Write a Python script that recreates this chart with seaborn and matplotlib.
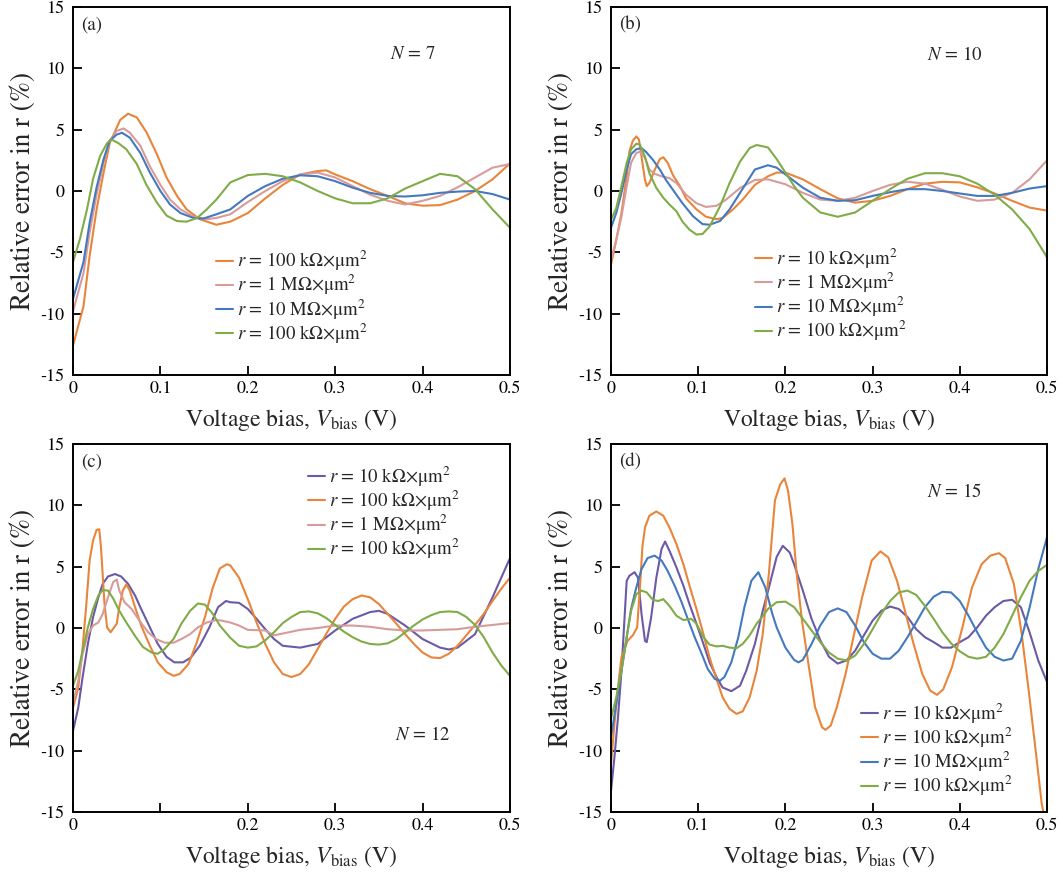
import numpy as np
import pandas as pd
import matplotlib
matplotlib.use("Agg")
import matplotlib.pyplot as plt
import seaborn as sns

# ---------------------------------------------------------------------------
# Relative error in the extracted specific resistance r versus voltage bias,
# for four model orders N.  Each curve is a list of (V_bias [V], error [%]).
# ---------------------------------------------------------------------------

# N = 7
A_100K = [(0, -12.6), (0.012, -9.4), (0.019, -5.3), (0.027, -1.5), (0.035, 1.5), (0.042, 3.9),
          (0.054, 5.8), (0.063, 6.3), (0.073, 6.0), (0.084, 4.8), (0.096, 3.0), (0.107, 1.1),
          (0.119, -0.4), (0.130, -1.5), (0.145, -2.3), (0.164, -2.75), (0.18, -2.5), (0.20, -1.8),
          (0.22, -0.6), (0.24, 0.5), (0.26, 1.35), (0.28, 1.63), (0.29, 1.68), (0.30, 1.35),
          (0.32, 0.8), (0.34, 0.15), (0.36, -0.4), (0.38, -1.0), (0.40, -1.2), (0.42, -1.15),
          (0.44, -0.7), (0.46, 0.0), (0.48, 0.95), (0.50, 2.25)]
A_1M = [(0, -9.8), (0.012, -6.7), (0.019, -3.4), (0.027, -0.3), (0.035, 2.3), (0.042, 4.1),
        (0.050, 4.9), (0.058, 5.1), (0.065, 4.75), (0.077, 3.7), (0.088, 2.0), (0.100, 0.5),
        (0.111, -0.7), (0.123, -1.5), (0.138, -2.1), (0.153, -2.3), (0.164, -2.2), (0.18, -1.9),
        (0.20, -0.9), (0.22, 0.0), (0.24, 0.8), (0.26, 1.35), (0.28, 1.5), (0.30, 1.1),
        (0.32, 0.4), (0.34, -0.3), (0.36, -0.8), (0.38, -1.1), (0.40, -0.8), (0.42, -0.4),
        (0.44, 0.3), (0.46, 1.1), (0.48, 1.9), (0.50, 2.2)]
A_10M = [(0, -8.8), (0.012, -5.8), (0.019, -2.6), (0.027, 0.3), (0.035, 2.6), (0.042, 4.1),
         (0.050, 4.6), (0.056, 4.75), (0.065, 4.35), (0.077, 3.1), (0.088, 1.5), (0.100, 0.0),
         (0.111, -1.1), (0.123, -1.8), (0.138, -2.2), (0.149, -2.25), (0.164, -1.9), (0.18, -1.5),
         (0.20, -0.4), (0.22, 0.4), (0.24, 1.0), (0.26, 1.28), (0.28, 1.2), (0.30, 0.8),
         (0.32, 0.27), (0.34, -0.15), (0.36, -0.4), (0.38, -0.45), (0.40, -0.35), (0.42, -0.15),
         (0.44, -0.05), (0.46, 0.0), (0.48, -0.25), (0.50, -0.7)]
A_100K_B = [(0, -5.8), (0.008, -3.9), (0.016, -1.5), (0.023, 1.0), (0.031, 2.85), (0.039, 3.9),
            (0.044, 4.2), (0.052, 3.9), (0.061, 3.4), (0.073, 2.2), (0.084, 0.5), (0.096, -0.95),
            (0.107, -2.0), (0.119, -2.45), (0.130, -2.5), (0.142, -2.2), (0.153, -1.5),
            (0.164, -0.7), (0.18, 0.7), (0.20, 1.3), (0.22, 1.4), (0.24, 1.2), (0.26, 0.7),
            (0.28, 0.0), (0.30, -0.6), (0.32, -1.0), (0.34, -1.0), (0.36, -0.6), (0.38, 0.2),
            (0.40, 0.8), (0.42, 1.4), (0.44, 1.2), (0.46, 0.15), (0.48, -1.5), (0.50, -3.0)]

# N = 10
B_10K = [(0, -6.0), (0.006, -4.0), (0.012, -1.8), (0.018, 1.2), (0.021, 3.2), (0.025, 4.1),
         (0.029, 4.45), (0.032, 4.2), (0.035, 2.8), (0.039, 0.9), (0.041, 0.4), (0.044, 0.65),
         (0.050, 1.7), (0.056, 2.6), (0.060, 2.75), (0.065, 2.3), (0.071, 1.3), (0.079, 0.4),
         (0.086, -0.6), (0.098, -1.5), (0.109, -2.1), (0.121, -2.3), (0.128, -2.2), (0.140, -1.5),
         (0.151, -0.7), (0.165, 0.5), (0.18, 1.2), (0.19, 1.5), (0.20, 1.5), (0.22, 0.95),
         (0.24, 0.15), (0.26, -0.6), (0.28, -0.95), (0.30, -0.8), (0.32, -0.4), (0.34, 0.15),
         (0.36, 0.6), (0.38, 0.75), (0.40, 0.7), (0.42, 0.3), (0.44, -0.2), (0.46, -0.8),
         (0.48, -1.35), (0.50, -1.6)]
B_1M = [(0, -5.6), (0.006, -4.0), (0.012, -2.1), (0.018, 0.4), (0.023, 2.3), (0.029, 3.1),
        (0.033, 3.2), (0.039, 2.7), (0.044, 1.75), (0.050, 1.4), (0.058, 1.2), (0.067, 1.05),
        (0.075, 0.65), (0.086, -0.3), (0.098, -1.0), (0.109, -1.3), (0.121, -1.2), (0.132, -0.7),
        (0.148, 0.25), (0.165, 0.9), (0.18, 0.95), (0.20, 0.55), (0.22, -0.15), (0.24, -0.7),
        (0.26, -0.8), (0.28, -0.55), (0.30, 0.0), (0.32, 0.5), (0.34, 0.75), (0.36, 0.6),
        (0.38, 0.1), (0.40, -0.45), (0.42, -0.8), (0.44, -0.7), (0.46, -0.15), (0.48, 0.95),
        (0.50, 2.5)]
B_10M = [(0, -3.0), (0.006, -1.8), (0.012, -0.15), (0.018, 1.75), (0.023, 3.0), (0.029, 3.4),
         (0.035, 3.5), (0.040, 3.2), (0.048, 2.55), (0.056, 1.75), (0.063, 0.9), (0.071, 0.1),
         (0.082, -1.0), (0.094, -2.05), (0.105, -2.7), (0.113, -2.75), (0.125, -2.45),
         (0.136, -1.5), (0.148, -0.15), (0.165, 1.75), (0.18, 2.1), (0.19, 1.9), (0.20, 1.35),
         (0.22, 0.27), (0.24, -0.55), (0.26, -0.8), (0.28, -0.75), (0.30, -0.4), (0.32, -0.1),
         (0.34, 0.15), (0.36, 0.15), (0.38, 0.0), (0.40, -0.2), (0.42, -0.4), (0.44, -0.4),
         (0.46, -0.15), (0.48, 0.2), (0.50, 0.4)]
B_100K = [(0, -2.35), (0.006, -1.4), (0.012, 0.4), (0.018, 2.3), (0.023, 3.4), (0.029, 3.85),
          (0.033, 3.8), (0.039, 2.8), (0.044, 1.45), (0.052, 0.25), (0.060, -0.55), (0.067, -1.1),
          (0.075, -1.65), (0.082, -2.5), (0.090, -3.15), (0.098, -3.55), (0.105, -3.5),
          (0.113, -2.9), (0.125, -1.25), (0.136, 0.65), (0.148, 2.4), (0.159, 3.5), (0.167, 3.75),
          (0.18, 3.55), (0.19, 2.6), (0.20, 1.5), (0.21, 0.4), (0.22, -0.55), (0.24, -1.75),
          (0.26, -2.1), (0.28, -1.75), (0.30, -0.8), (0.32, 0.15), (0.34, 1.0), (0.36, 1.45),
          (0.38, 1.45), (0.40, 1.2), (0.42, 0.6), (0.44, -0.3), (0.46, -1.5), (0.48, -3.1),
          (0.50, -5.4)]

# N = 12
C_10K = [(0, -8.4), (0.006, -6.5), (0.011, -4.0), (0.017, -1.3), (0.023, 0.9), (0.029, 2.5),
         (0.034, 3.6), (0.040, 4.2), (0.048, 4.4), (0.055, 4.2), (0.063, 3.6), (0.071, 2.65),
         (0.078, 1.55), (0.088, 0.05), (0.097, -1.3), (0.107, -2.35), (0.116, -2.8),
         (0.126, -2.8), (0.135, -2.4), (0.145, -1.45), (0.156, 0.05), (0.166, 1.7), (0.175, 2.2),
         (0.18, 2.1), (0.19, 2.05), (0.20, 1.55), (0.21, 0.75), (0.22, -0.1), (0.23, -0.9),
         (0.24, -1.45), (0.26, -1.6), (0.28, -1.3), (0.30, -0.2), (0.32, 0.75), (0.34, 1.3),
         (0.35, 1.4), (0.36, 1.15), (0.38, 0.2), (0.40, -0.9), (0.42, -1.6), (0.43, -1.75),
         (0.44, -1.6), (0.46, -0.5), (0.48, 2.5), (0.49, 4.1), (0.50, 5.7)]
C_100K = [(0, -6.5), (0.006, -4.9), (0.011, -1.6), (0.015, 1.7), (0.019, 5.5), (0.023, 7.15),
          (0.027, 8.0), (0.030, 8.05), (0.032, 6.6), (0.036, 2.0), (0.039, 0.05), (0.043, -0.35),
          (0.050, 0.35), (0.053, 1.7), (0.057, 3.05), (0.061, 3.55), (0.065, 3.05), (0.071, 1.7),
          (0.078, 0.2), (0.088, -1.45), (0.097, -2.8), (0.107, -3.6), (0.115, -3.9),
          (0.122, -3.75), (0.132, -2.95), (0.141, -1.3), (0.151, 0.9), (0.160, 3.3),
          (0.168, 4.85), (0.176, 5.2), (0.18, 5.1), (0.19, 4.1), (0.20, 2.35), (0.21, 0.45),
          (0.22, -1.3), (0.23, -2.8), (0.24, -3.75), (0.25, -4.0), (0.26, -3.75), (0.27, -2.95),
          (0.28, -1.7), (0.29, -0.45), (0.30, 0.75), (0.31, 1.75), (0.32, 2.35), (0.33, 2.65),
          (0.34, 2.5), (0.35, 1.95), (0.36, 1.15), (0.37, 0.35), (0.38, -0.5), (0.39, -1.3),
          (0.40, -2.0), (0.41, -2.4), (0.42, -2.45), (0.43, -2.1), (0.44, -1.45), (0.45, -0.6),
          (0.46, 0.25), (0.47, 1.15), (0.48, 2.2), (0.49, 3.2), (0.50, 4.1)]
C_1M = [(0, -6.1), (0.006, -4.3), (0.011, -2.1), (0.017, -0.5), (0.023, 0.2), (0.029, 0.45),
        (0.034, 1.15), (0.040, 2.5), (0.046, 3.75), (0.050, 3.95), (0.053, 3.05), (0.059, 2.1),
        (0.067, 1.55), (0.076, 0.6), (0.086, -0.35), (0.095, -0.9), (0.105, -1.2), (0.115, -1.2),
        (0.124, -0.9), (0.134, -0.5), (0.143, 0.05), (0.153, 0.45), (0.164, 0.65), (0.17, 0.6),
        (0.18, 0.45), (0.19, 0.2), (0.20, -0.15), (0.22, -0.2), (0.23, -0.6), (0.24, -0.45),
        (0.26, -0.15), (0.28, 0.0), (0.30, 0.2), (0.32, 0.2), (0.34, 0.1), (0.36, -0.1),
        (0.38, -0.2), (0.40, -0.2), (0.42, -0.15), (0.44, -0.1), (0.46, 0.1), (0.48, 0.25),
        (0.50, 0.4)]
C_100K_B = [(0, -4.7), (0.006, -3.5), (0.011, -1.85), (0.017, 0.05), (0.023, 1.55), (0.029, 2.65),
            (0.034, 3.1), (0.040, 3.05), (0.046, 2.4), (0.053, 1.4), (0.061, 0.45), (0.071, -0.65),
            (0.080, -1.55), (0.090, -2.0), (0.097, -2.1), (0.105, -1.7), (0.115, -0.9),
            (0.124, 0.35), (0.134, 1.4), (0.143, 2.0), (0.151, 1.9), (0.160, 1.15), (0.168, 0.2),
            (0.18, -0.8), (0.19, -1.45), (0.20, -1.6), (0.21, -1.5), (0.22, -1.0), (0.23, -0.35),
            (0.24, 0.4), (0.25, 0.9), (0.26, 1.3), (0.27, 1.35), (0.28, 1.2), (0.29, 0.8),
            (0.30, 0.25), (0.31, -0.3), (0.32, -0.75), (0.33, -1.1), (0.34, -1.3), (0.35, -1.35),
            (0.36, -1.25), (0.37, -0.9), (0.38, -0.35), (0.39, 0.2), (0.40, 0.7), (0.41, 1.05),
            (0.42, 1.3), (0.43, 1.35), (0.44, 1.3), (0.45, 0.9), (0.46, 0.25), (0.47, -0.75),
            (0.48, -2.0), (0.49, -3.05), (0.50, -3.9)]

# N = 15
D_10K = [(0, -13.3), (0.004, -10.5), (0.008, -7.3), (0.012, -3.5), (0.016, 1.4), (0.018, 3.85),
         (0.021, 4.25), (0.027, 4.55), (0.031, 4.1), (0.035, 1.15), (0.039, -1.05),
         (0.041, -1.15), (0.046, 0.85), (0.052, 4.1), (0.058, 6.45), (0.062, 7.05), (0.067, 6.3),
         (0.075, 4.95), (0.083, 3.45), (0.090, 1.95), (0.098, 0.35), (0.106, -1.3), (0.113, -2.8),
         (0.121, -4.0), (0.128, -4.85), (0.138, -5.15), (0.148, -4.7), (0.155, -3.5),
         (0.165, -1.3), (0.174, 1.4), (0.18, 3.0), (0.19, 5.8), (0.197, 6.7), (0.205, 6.15),
         (0.21, 5.2), (0.22, 3.05), (0.23, 0.75), (0.24, -1.0), (0.25, -2.35), (0.26, -2.9),
         (0.27, -2.65), (0.28, -1.85), (0.29, -0.6), (0.30, 0.6), (0.31, 1.4), (0.32, 1.75),
         (0.33, 1.55), (0.34, 0.9), (0.35, -0.1), (0.36, -0.75), (0.37, -1.15), (0.38, -1.6),
         (0.39, -1.6), (0.40, -1.15), (0.41, -0.75), (0.42, 0.05), (0.43, 1.0), (0.44, 1.7),
         (0.45, 2.2), (0.46, 2.3), (0.47, 1.7), (0.48, -0.35), (0.49, -2.65), (0.50, -4.4)]
D_100K = [(0, -11.1), (0.004, -7.8), (0.008, -4.85), (0.012, -2.4), (0.016, -1.6), (0.019, -1.05),
          (0.025, -0.6), (0.030, 0.05), (0.033, 3.05), (0.036, 6.6), (0.039, 8.2), (0.044, 9.15),
          (0.052, 9.5), (0.060, 9.15), (0.067, 8.2), (0.075, 6.85), (0.083, 5.2), (0.090, 3.45),
          (0.098, 1.55), (0.106, -0.5), (0.113, -2.4), (0.121, -4.15), (0.128, -5.65),
          (0.136, -6.6), (0.144, -7.0), (0.151, -6.8), (0.159, -5.65), (0.167, -3.5),
          (0.174, -0.5), (0.181, 4.4), (0.188, 10.4), (0.194, 11.7), (0.199, 12.2), (0.203, 11.2),
          (0.208, 8.5), (0.213, 4.4), (0.219, 0.6), (0.227, -3.2), (0.234, -6.45), (0.242, -8.1),
          (0.246, -8.3), (0.252, -7.95), (0.259, -6.45), (0.269, -3.75), (0.278, -0.75),
          (0.288, 2.5), (0.299, 5.5), (0.309, 6.25), (0.318, 5.75), (0.328, 3.85), (0.338, 1.15),
          (0.347, -1.3), (0.357, -3.75), (0.366, -5.1), (0.374, -5.45), (0.381, -5.0),
          (0.391, -3.2), (0.403, 0.05), (0.414, 3.3), (0.425, 5.2), (0.435, 5.9), (0.445, 6.1),
          (0.452, 5.7), (0.462, 3.6), (0.471, -0.5), (0.479, -5.1), (0.487, -10.0),
          (0.494, -14.35), (0.50, -16.5)]
D_10M = [(0, -8.9), (0.006, -6.2), (0.012, -3.5), (0.018, -0.75), (0.023, 1.55), (0.029, 3.3),
         (0.035, 4.8), (0.042, 5.7), (0.050, 5.9), (0.058, 5.5), (0.065, 4.65), (0.073, 3.45),
         (0.081, 2.1), (0.088, 0.75), (0.096, -0.75), (0.104, -2.1), (0.111, -3.35),
         (0.119, -4.15), (0.125, -4.3), (0.130, -4.0), (0.138, -2.8), (0.146, -0.75),
         (0.153, 1.7), (0.161, 3.85), (0.169, 4.55), (0.177, 3.3), (0.185, 1.15), (0.19, 0.05),
         (0.20, -1.6), (0.21, -2.6), (0.215, -2.8), (0.22, -2.6), (0.23, -1.3), (0.24, 0.2),
         (0.25, 1.3), (0.26, 1.6), (0.27, 1.3), (0.28, 0.2), (0.29, -1.15), (0.30, -2.1),
         (0.31, -2.5), (0.32, -2.5), (0.33, -1.85), (0.34, -0.75), (0.35, 0.45), (0.36, 1.7),
         (0.37, 2.55), (0.38, 2.95), (0.39, 2.9), (0.40, 2.2), (0.41, 1.0), (0.42, -0.35),
         (0.43, -1.6), (0.44, -2.35), (0.45, -2.65), (0.46, -2.5), (0.47, -1.05), (0.48, 1.65),
         (0.49, 4.8), (0.50, 7.4)]
D_100K_B = [(0, -7.4), (0.006, -5.65), (0.012, -3.5), (0.018, -0.75), (0.023, 1.4), (0.029, 2.75),
            (0.035, 3.05), (0.041, 2.9), (0.048, 2.3), (0.054, 2.2), (0.060, 2.35), (0.067, 1.8),
            (0.075, 1.0), (0.083, 0.65), (0.092, 0.75), (0.098, 0.35), (0.106, -0.75),
            (0.113, -1.35), (0.121, -1.5), (0.128, -1.45), (0.136, -1.6), (0.144, -1.65),
            (0.151, -1.3), (0.159, -0.6), (0.167, 0.35), (0.176, 1.15), (0.18, 1.55), (0.19, 2.1),
            (0.20, 2.15), (0.21, 1.7), (0.22, 0.75), (0.23, -0.2), (0.24, -1.15), (0.25, -2.0),
            (0.26, -2.5), (0.27, -2.65), (0.28, -2.25), (0.29, -1.3), (0.30, -0.1), (0.31, 1.15),
            (0.32, 2.2), (0.33, 2.9), (0.34, 3.05), (0.35, 2.7), (0.36, 1.8), (0.37, 0.75),
            (0.38, -0.35), (0.39, -1.25), (0.40, -1.9), (0.41, -2.35), (0.42, -2.5), (0.43, -2.35),
            (0.44, -1.6), (0.45, -0.5), (0.46, 1.0), (0.47, 2.5), (0.48, 3.85), (0.49, 4.65),
            (0.50, 5.15)]

# Axis ticks and labels
X_TICKS = [0, 0.1, 0.2, 0.3, 0.4, 0.5]
X_TICKLABELS = ["0", "0.1", "0.2", "0.3", "0.4", "0.5"]
X_TICKLABELS_C = ["0", "", "0.2", "0.3", "0.4", "0.5"]
Y_TICKS = [-15, -10, -5, 0, 5, 10, 15]
Y_TICKLABELS = ["-15", "-10", "-5", "0", "5", "10", "15"]

ORANGE = "#E8853A"
PINK = "#D89B9B"
BLUE = "#4479BE"
GREEN = "#80AC48"
PURPLE = "#6B5AA6"

L_10K = r"$r$ = 10 kΩ×μm$^2$"
L_100K = r"$r$ = 100 kΩ×μm$^2$"
L_1M = r"$r$ = 1 MΩ×μm$^2$"
L_10M = r"$r$ = 10 MΩ×μm$^2$"

panels = [
    dict(rect=(73, 7, 510, 375), tag="(a)", order=r"$N$ = 7", order_xy=(0.725, 0.87),
         xt=X_TICKLABELS, leg=(0.327, 0.343),
         curves=[(A_100K, ORANGE, L_100K), (A_1M, PINK, L_1M),
                 (A_10M, BLUE, L_10M), (A_100K_B, GREEN, L_100K)]),
    dict(rect=(611, 7, 1047, 375), tag="(b)", order=r"$N$ = 10", order_xy=(0.725, 0.87),
         xt=X_TICKLABELS, leg=(0.330, 0.350),
         curves=[(B_10K, ORANGE, L_10K), (B_1M, PINK, L_1M),
                 (B_10M, BLUE, L_10M), (B_100K, GREEN, L_100K)]),
    dict(rect=(73, 444, 510, 812), tag="(c)", order=r"$N$ = 12", order_xy=(0.737, 0.21),
         xt=X_TICKLABELS_C, leg=(0.537, 0.945),
         curves=[(C_10K, PURPLE, L_10K), (C_100K, ORANGE, L_100K),
                 (C_1M, PINK, L_1M), (C_100K_B, GREEN, L_100K)]),
    dict(rect=(611, 444, 1047, 812), tag="(d)", order=r"$N$ = 15", order_xy=(0.725, 0.87),
         xt=X_TICKLABELS, leg=(0.573, 0.301),
         curves=[(D_10K, PURPLE, L_10K), (D_100K, ORANGE, L_100K),
                 (D_10M, BLUE, L_10M), (D_100K_B, GREEN, L_100K)]),
]

sns.set_style("ticks")
plt.rcParams["font.family"] = ["STIXGeneral", "DejaVu Serif"]
plt.rcParams["mathtext.fontset"] = "stix"
plt.rcParams["axes.unicode_minus"] = False

W, H = 1063, 873
fig = plt.figure(figsize=(W / 100, H / 100), dpi=100)

for p in panels:
    x0, y0, x1, y1 = p["rect"]
    ax = fig.add_axes([x0 / W, 1 - y1 / H, (x1 - x0) / W, (y1 - y0) / H])
    for pts, color, label in p["curves"]:
        df = pd.DataFrame(pts, columns=["V", "err"])
        sns.lineplot(data=df, x="V", y="err", ax=ax, color=color, label=label,
                     lw=1.5, sort=False, estimator=None)
    ax.set_xlim(0, 0.5)
    ax.set_ylim(-15, 15)
    ax.set_xticks(X_TICKS)
    ax.set_xticklabels(p["xt"])
    ax.set_yticks(Y_TICKS)
    ax.set_yticklabels(Y_TICKLABELS)
    ax.tick_params(direction="in", length=6.7, width=1.3, labelsize=13,
                   top=False, right=False, colors="black")
    ax.tick_params(axis="x", pad=4.5)
    ax.tick_params(axis="y", pad=6.0)
    for s in ax.spines.values():
        s.set_linewidth(1.4)
        s.set_color("black")
        s.set_visible(True)
    ax.set_xlabel(r"Voltage bias, $V_{\rm bias}$ (V)", fontsize=17, labelpad=7)
    ax.set_ylabel("Relative error in r (%)", fontsize=19.5, labelpad=3)
    ax.text(0.018, 0.951, p["tag"], transform=ax.transAxes, fontsize=13.5,
            ha="left", va="center")
    ax.text(p["order_xy"][0], p["order_xy"][1], p["order"], transform=ax.transAxes,
            fontsize=13.5, ha="left", va="center")
    ax.legend(loc="upper left", bbox_to_anchor=p["leg"], frameon=False, fontsize=13.5,
              handlelength=0.9, handletextpad=0.25, labelspacing=0.0,
              borderpad=0, borderaxespad=0)

fig.savefig("out.png", dpi=100)
